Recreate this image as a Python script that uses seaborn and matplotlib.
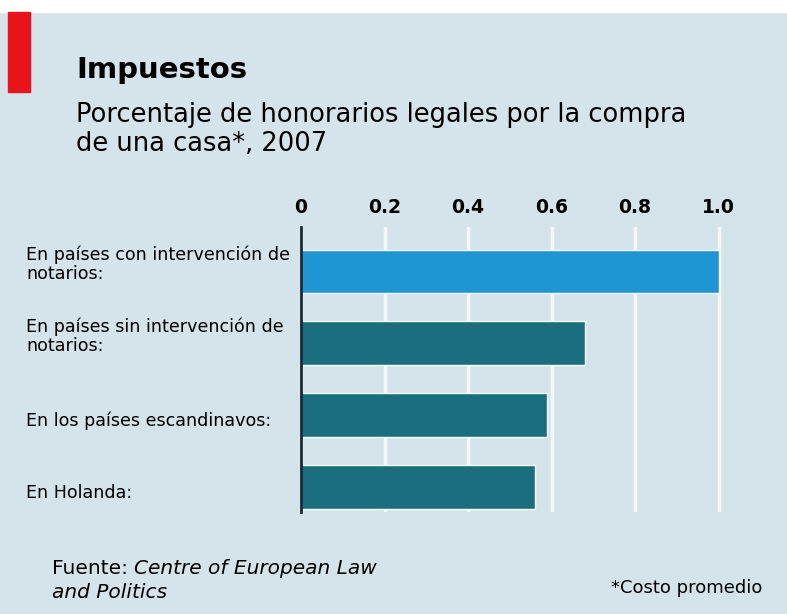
import numpy as np
import pandas as pd
import seaborn as sns
import matplotlib.pyplot as plt
import matplotlib.transforms as mtrans
from matplotlib.patches import Rectangle

categorias = ["En países con intervención de\nnotarios:",
              "En países sin intervención de\nnotarios:",
              "En los países escandinavos:",
              "En Holanda:"]
valores = [1.0, 0.68, 0.59, 0.56]
colores = ["#1f96d3", "#1b6e80", "#1b6e80", "#1b6e80"]
ticks = [0, 0.2, 0.4, 0.6, 0.8, 1.0]
tick_labels = ["0", "0.2", "0.4", "0.6", "0.8", "1.0"]

bg = "#d5e3eb"
sns.set_style("white")
plt.rcParams["font.family"] = ["DejaVu Sans"]
plt.rcParams["text.color"] = "black"
plt.rcParams["xtick.color"] = "black"
plt.rcParams["ytick.color"] = "black"

df = pd.DataFrame({"cat": categorias, "val": valores})

fig = plt.figure(figsize=(7.87, 6.14), dpi=100, facecolor=bg)
# white strip on top and red marker
fig.patches.append(Rectangle((0, 1 - 12/614), 1, 12/614, transform=fig.transFigure,
                             color="white", zorder=0))
fig.patches.append(Rectangle((8/787, 1 - 92/614), 22/787, 80/614, transform=fig.transFigure,
                             color="#e8141a", zorder=1))

ax = fig.add_axes([301/787, 1 - 512/614, 426/787, 285/614])
ax.set_facecolor(bg)
sns.barplot(data=df, x="val", y="cat", hue="cat", palette=colores, legend=False,
            ax=ax, width=0.61, saturation=1, zorder=3)

ax.set_xlim(0, 1.02)
ax.set_ylim(3.35, -0.62)
ax.set_xlabel("")
ax.set_ylabel("")
ax.xaxis.tick_top()
ax.set_xticks(ticks)
ax.set_xticklabels(tick_labels, fontsize=13.5, fontweight="bold")
ax.tick_params(axis="x", length=0, pad=7)
ax.grid(axis="x", color="#f4f8fa", lw=2.5, zorder=1)
ax.set_axisbelow(True)

ax.tick_params(axis="y", length=0, pad=198)
for lbl in ax.get_yticklabels():
    lbl.set_ha("left")
    lbl.set_fontsize(12.6)
    lbl.set_linespacing(1.1)
    # two-line labels sit higher, one-line ones a bit lower
    dy = 10 if "\n" in lbl.get_text() else -4
    lbl.set_transform(lbl.get_transform() +
                      mtrans.ScaledTranslation(0, dy/100, fig.dpi_scale_trans))

for s in ["top", "right", "bottom"]:
    ax.spines[s].set_visible(False)
ax.spines["left"].set_color("#1a2a30")
ax.spines["left"].set_linewidth(2)
ax.spines["left"].set_zorder(5)

fig.text(76/787, 1 - 70/614, "Impuestos", fontsize=21, fontweight="bold",
         va="center", ha="left")
fig.text(76/787, 1 - 129/614, "Porcentaje de honorarios legales por la compra\nde una casa*, 2007",
         fontsize=18.5, va="center", ha="left", linespacing=1.15)

fuente = fig.text(52/787, 1 - 568/614, "Fuente: ", fontsize=14.5, va="center", ha="left")
fig.canvas.draw()
bb = fuente.get_window_extent()
fig.text(bb.x1/787, 1 - 568/614, "Centre of European Law", fontsize=14.5, style="italic",
         va="center", ha="left")
fig.text(52/787, 1 - 592/614, "and Politics", fontsize=14.5, style="italic",
         va="center", ha="left")
fig.text(762/787, 1 - 588/614, "*Costo promedio", fontsize=13, va="center", ha="right")

plt.savefig("out.png", dpi=100, facecolor=bg)
